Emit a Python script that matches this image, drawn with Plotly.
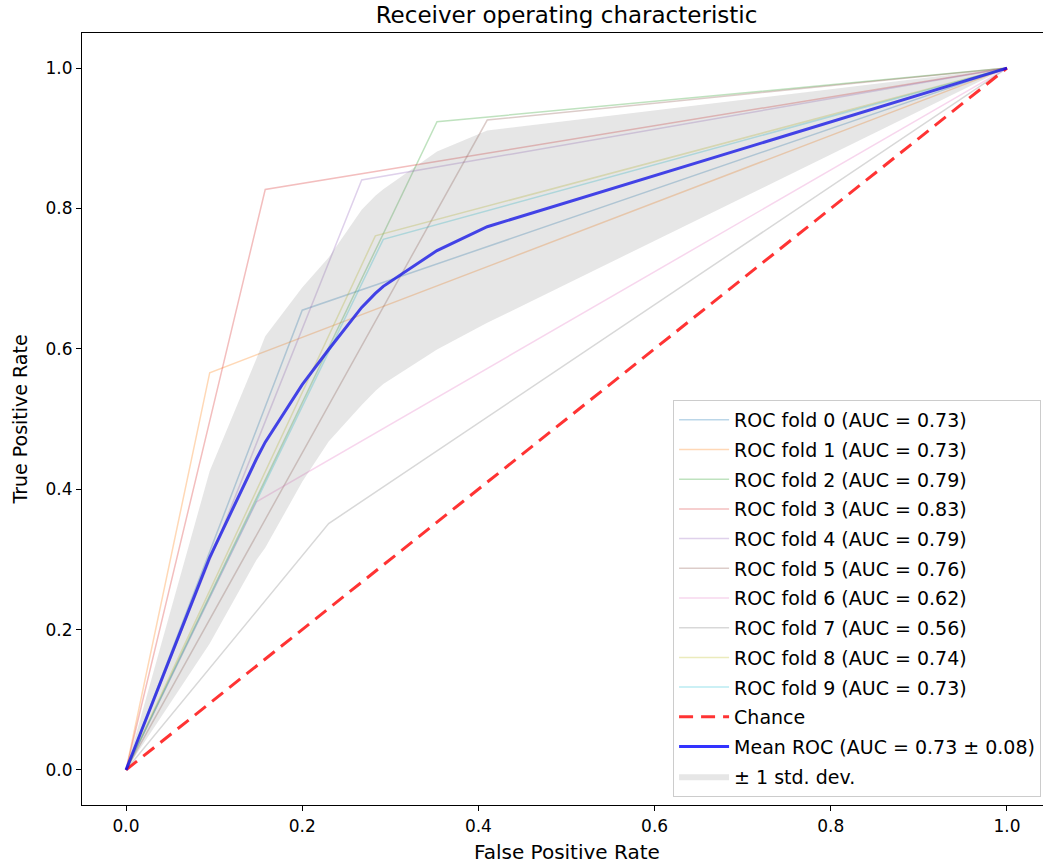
import plotly.graph_objects as go

# ---- data ----
fold_names = ["ROC fold 0 (AUC = 0.73)", "ROC fold 1 (AUC = 0.73)", "ROC fold 2 (AUC = 0.79)",
              "ROC fold 3 (AUC = 0.83)", "ROC fold 4 (AUC = 0.79)", "ROC fold 5 (AUC = 0.76)",
              "ROC fold 6 (AUC = 0.62)", "ROC fold 7 (AUC = 0.56)", "ROC fold 8 (AUC = 0.74)",
              "ROC fold 9 (AUC = 0.73)"]
fold_fpr = [[0, 0.200, 1], [0, 0.095, 1], [0, 0.353, 1], [0, 0.158, 1], [0, 0.2675, 1],
            [0, 0.410, 1], [0, 0.148, 1], [0, 0.230, 1], [0, 0.283, 1], [0, 0.292, 1]]
fold_tpr = [[0, 0.655, 1], [0, 0.566, 1], [0, 0.9235, 1], [0, 0.827, 1], [0, 0.8405, 1],
            [0, 0.926, 1], [0, 0.382, 1], [0, 0.351, 1], [0, 0.761, 1], [0, 0.756, 1]]
fold_colors = ["#1f77b4", "#ff7f0e", "#2ca02c", "#d62728", "#9467bd",
               "#8c564b", "#e377c2", "#7f7f7f", "#bcbd22", "#17becf"]

chance_x = [0, 1]
chance_y = [0, 1]

mean_fpr = [0, 0.095, 0.148, 0.158, 0.200, 0.230, 0.2675, 0.283, 0.292, 0.353, 0.410, 1.0]
mean_tpr = [0, 0.303, 0.443, 0.467, 0.549, 0.599, 0.659, 0.679, 0.689, 0.740, 0.774, 1.0]
tpr_upper = [0, 0.426, 0.586, 0.618, 0.6875, 0.730, 0.798, 0.818, 0.8275, 0.881, 0.911, 1.0]
tpr_lower = [0, 0.180, 0.299, 0.3165, 0.4105, 0.468, 0.520, 0.540, 0.550, 0.599, 0.637, 1.0]

x_ticks = [0.0, 0.2, 0.4, 0.6, 0.8, 1.0]
y_ticks = [0.0, 0.2, 0.4, 0.6, 0.8, 1.0]


def rgba(hex_color, a):
    h = hex_color.lstrip("#")
    r, g, b = int(h[0:2], 16), int(h[2:4], 16), int(h[4:6], 16)
    return f"rgba({r},{g},{b},{a})"


fig = go.Figure()

for i in range(len(fold_names)):
    fig.add_trace(go.Scatter(
        x=fold_fpr[i], y=fold_tpr[i], mode="lines", name=fold_names[i],
        line=dict(color=rgba(fold_colors[i], 0.3), width=1.5),
        legendgroup=f"g{i}"))

fig.add_trace(go.Scatter(
    x=chance_x, y=chance_y, mode="lines", name="Chance",
    line=dict(color="rgba(255,0,0,0.8)", width=3, dash="14px,8px"),
    legendgroup="chance"))

fig.add_trace(go.Scatter(
    x=mean_fpr, y=mean_tpr, mode="lines", name="Mean ROC (AUC = 0.73 ± 0.08)",
    line=dict(color="rgba(0,0,255,0.8)", width=3),
    legendgroup="mean"))

fig.add_trace(go.Scatter(
    x=mean_fpr, y=tpr_lower, mode="lines", showlegend=False,
    line=dict(color="rgba(0,0,0,0)", width=0), legendgroup="std", hoverinfo="skip"))
fig.add_trace(go.Scatter(
    x=mean_fpr, y=tpr_upper, mode="lines", name="± 1 std. dev.",
    fill="tonexty", fillcolor="rgba(128,128,128,0.2)",
    line=dict(color="rgba(0,0,0,0)", width=0), legendgroup="std"))

axis_common = dict(
    showgrid=False, zeroline=False, showline=True, mirror=True,
    linecolor="black", linewidth=1.2, ticks="outside", ticklen=5,
    tickcolor="black", tickwidth=1.2, tickformat=".1f",
    tickfont=dict(family="DejaVu Sans", size=17, color="black"),
)

fig.update_layout(
    width=1043, height=865,
    margin=dict(l=82, r=0, t=33, b=60),
    paper_bgcolor="white", plot_bgcolor="white",
    font=dict(family="DejaVu Sans", color="black"),
    title=dict(text="Receiver operating characteristic",
               font=dict(family="DejaVu Sans", size=23, color="black"),
               x=566.5 / 1043, xref="container", xanchor="center",
               y=1 - 15 / 865, yref="container", yanchor="middle"),
    xaxis=dict(range=[-0.05, 1.0409], tickvals=x_ticks, **axis_common),
    yaxis=dict(range=[-0.05, 1.05], tickvals=y_ticks,
               title=dict(text="True Positive Rate",
                          font=dict(family="DejaVu Sans", size=19, color="black"),
                          standoff=12),
               **axis_common),
    legend=dict(x=0.998, y=0.0104, xanchor="right", yanchor="bottom",
                bgcolor="rgba(255,255,255,0.8)", bordercolor="#cccccc", borderwidth=1,
                font=dict(family="DejaVu Sans", size=19, color="black"),
                tracegroupgap=2, traceorder="grouped", itemwidth=50),
    showlegend=True,
    annotations=[dict(text="False Positive Rate", xref="paper", yref="paper",
                      x=(566.5 - 82) / 961, y=-(852 - 805) / 772,
                      xanchor="center", yanchor="middle", showarrow=False,
                      font=dict(family="DejaVu Sans", size=20, color="black"))],
)

fig.write_html("out.html")
